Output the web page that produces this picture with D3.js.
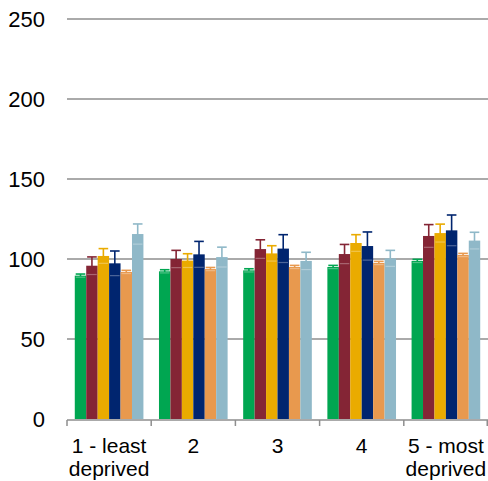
<!DOCTYPE html>
<html><head><meta charset="utf-8">
<script src="https://cdn.jsdelivr.net/npm/d3@7"></script>
<style>body{margin:0;background:#fff}svg{display:block}</style>
</head><body>
<script>
const categories = [["1 - least","deprived"],["2"],["3"],["4"],["5 - most","deprived"]];
const seriesNames = ["s1","s2","s3","s4","s5","s6"];
const colors = ["#00a651","#842535","#eaab00","#00256f","#e8994e","#8fb8c8"];
const values = [
  [89.6, 92.3, 92.9, 95.0, 98.8],
  [95.8, 100.0, 106.2, 103.1, 114.4],
  [101.9, 99.0, 103.5, 110.0, 116.2],
  [97.3, 102.9, 106.5, 108.1, 117.9],
  [91.9, 93.7, 95.0, 97.5, 102.5],
  [115.6, 101.2, 98.8, 100.4, 111.5]
];
const errors = [
  [1, 1, 1, 1, 1],
  [5.5, 5.4, 5.8, 6.0, 7.1],
  [4.6, 4.3, 4.8, 5.2, 5.6],
  [7.7, 8.1, 8.7, 8.8, 9.6],
  [1, 1, 1, 1, 1],
  [6.3, 6.2, 5.4, 5.0, 5.2]
];
const yTicks = [0, 50, 100, 150, 200, 250];

const W = 488, H = 481;
const svg = d3.select("body").append("svg").attr("width", W).attr("height", H);
const x = d3.scaleBand().domain(d3.range(categories.length)).range([67, 488]).paddingInner(0).paddingOuter(0);
const inner = d3.scaleBand().domain(d3.range(seriesNames.length)).range([0, x.bandwidth()]).paddingInner(0).paddingOuter(0.68);
const y = d3.scaleLinear().domain([0, 250]).range([419, 19]);

// gridlines
svg.append("g").selectAll("line").data(yTicks.filter(d => d > 0)).join("line")
  .attr("x1", 67).attr("x2", 488).attr("y1", d => y(d)).attr("y2", d => y(d))
  .attr("stroke", "#8e8e8e").attr("stroke-width", 1.5);

// y labels
svg.append("g").selectAll("text").data(yTicks).join("text")
  .attr("x", 45).attr("y", d => y(d)).attr("dy", "0.36em").attr("text-anchor", "end")
  .attr("font-family", "Liberation Sans, Arial, sans-serif").attr("font-size", 22).attr("fill", "#000")
  .text(d => d);

// bars
const groups = svg.append("g").selectAll("g").data(seriesNames).join("g");
groups.each(function(s, si) {
  const g = d3.select(this);
  const bw = inner.bandwidth();
  values[si].forEach((v, ci) => {
    const bx = x(ci) + inner(si);
    g.append("rect").attr("x", bx).attr("y", y(v)).attr("width", bw).attr("height", y(0) - y(v))
      .attr("fill", colors[si]);
    const cx = bx + bw / 2, e = errors[si][ci];
    const cw = bw * 0.42;
    g.append("line").attr("x1", cx).attr("x2", cx).attr("y1", y(v + e)).attr("y2", y(v - e))
      .attr("stroke", colors[si]).attr("stroke-width", 1.6);
    g.append("line").attr("x1", cx - cw).attr("x2", cx + cw).attr("y1", y(v + e)).attr("y2", y(v + e))
      .attr("stroke", colors[si]).attr("stroke-width", 1.6);
    g.append("line").attr("x1", cx - cw).attr("x2", cx + cw).attr("y1", y(v - e)).attr("y2", y(v - e))
      .attr("stroke", "#ffffff").attr("stroke-opacity", 0.3).attr("stroke-width", 1.2);
  });
});

// x axis
svg.append("line").attr("x1", 67).attr("x2", 488).attr("y1", 420).attr("y2", 420)
  .attr("stroke", "#8e8e8e").attr("stroke-width", 1.5);
const tickPos = d3.range(categories.length + 1).map(i => i < categories.length ? x(i) : x.range()[1] - 0.75);
svg.append("g").selectAll("line").data(tickPos).join("line")
  .attr("x1", d => d).attr("x2", d => d).attr("y1", 420).attr("y2", 426)
  .attr("stroke", "#8e8e8e").attr("stroke-width", 1.5);

const labels = svg.append("g").selectAll("text").data(categories).join("text")
  .attr("x", (d, i) => x(i) + x.bandwidth() / 2).attr("y", 453)
  .attr("text-anchor", "middle")
  .attr("font-family", "Liberation Sans, Arial, sans-serif").attr("font-size", 21).attr("fill", "#000");
labels.each(function(d) {
  const t = d3.select(this);
  d.forEach((line, li) => {
    t.append("tspan").attr("x", t.attr("x")).attr("dy", li === 0 ? 0 : 23).text(line);
  });
});
</script>
</body></html>
